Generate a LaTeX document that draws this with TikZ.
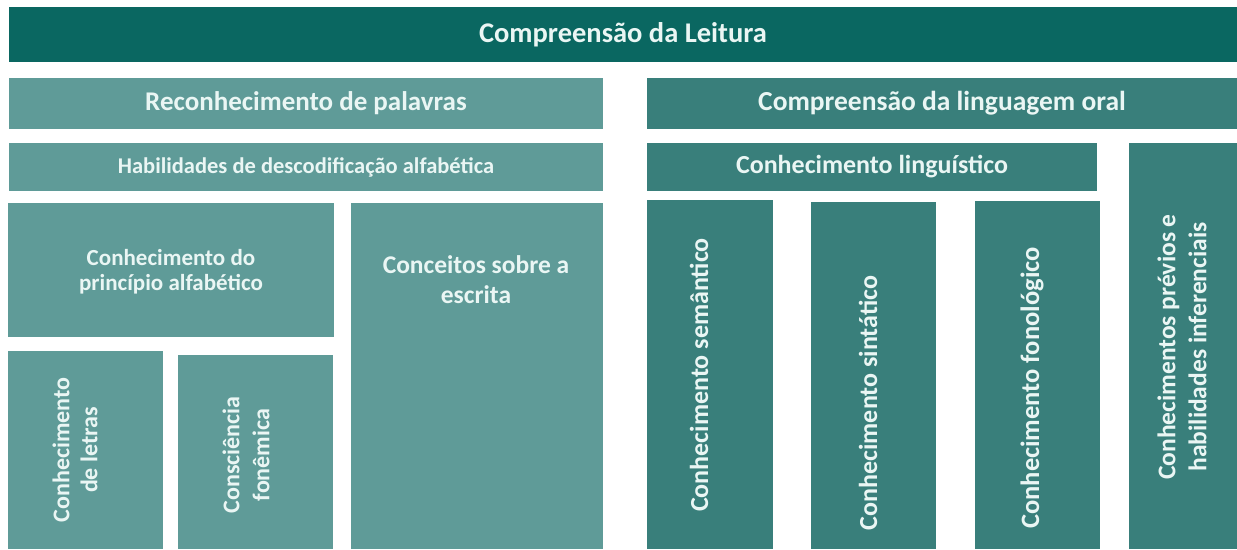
\documentclass[tikz,border=0pt]{standalone}
\usepackage{fontspec}
\setmainfont{Carlito}
\definecolor{topc}{HTML}{0A6761}
\definecolor{leftc}{HTML}{5F9B98}
\definecolor{rightc}{HTML}{397F7B}
\definecolor{txtc}{HTML}{EAF6F4}
\tikzset{
  blk/.style={rectangle, inner sep=0pt, outer sep=0pt, draw=none, text=txtc, font=\bfseries, align=center},
  lbl/.style={inner sep=0pt, text=txtc, font=\bfseries, align=center},
}
% \bx{name}{x1}{y1}{x2}{y2}{color}
\newcommand{\bx}[6]{%
  \node[blk, fill=#6, minimum width={(#4-#2)*1pt}, minimum height={(#5-#3)*1pt}] (#1) at ({(#2+#4)/2},{(#3+#5)/2}) {};}
\begin{document}
\begin{tikzpicture}[x=1pt,y=-1pt]
\useasboundingbox (0,0) rectangle (1237,549);
\fill[white] (0,0) rectangle (1237,549);
% boxes
\bx{top}{9}{7}{1237}{62}{topc}
\bx{reco}{9}{78}{603}{129}{leftc}
\bx{habil}{9}{143}{603}{191}{leftc}
\bx{princ}{8}{203}{334}{337}{leftc}
\bx{conc}{351}{203}{603}{549}{leftc}
\bx{letras}{8}{351}{163}{549}{leftc}
\bx{consc}{178}{355}{333}{549}{leftc}
\bx{oral}{647}{78}{1237}{129}{rightc}
\bx{ling}{647}{143}{1097}{191}{rightc}
\bx{prev}{1129}{143}{1237}{549}{rightc}
\bx{sem}{647}{200}{773}{549}{rightc}
\bx{sint}{811}{202}{936}{549}{rightc}
\bx{fono}{975}{201}{1100}{549}{rightc}
% texts
\node[lbl, font=\bfseries\fontsize{28.5}{32}\selectfont] (ttop) at (top.center) {Compreensão da Leitura};
\node[lbl, font=\bfseries\fontsize{27}{30}\selectfont] (treco) at (reco.center) {Reconhecimento de palavras};
\node[lbl, font=\bfseries\fontsize{22.5}{24}\selectfont] (thabil) at (habil.center) {Habilidades de descodificação alfabética};
\node[lbl, font=\bfseries\fontsize{23}{25}\selectfont] (tprinc) at (171,272) {Conhecimento do\\princípio alfabético};
\node[lbl, font=\bfseries\fontsize{25.5}{30}\selectfont] (tconc) at (476,280) {Conceitos sobre a\\escrita};
\node[lbl, rotate=90, font=\bfseries\fontsize{24}{28}\selectfont] (tletras) at (75,450) {Conhecimento\\de letras};
\node[lbl, rotate=90, font=\bfseries\fontsize{24}{30}\selectfont] (tconsc) at (246,455) {Consciência\\fonêmica};
\node[lbl, font=\bfseries\fontsize{27.5}{30}\selectfont] (toral) at (oral.center) {Compreensão da linguagem oral};
\node[lbl, font=\bfseries\fontsize{26}{28}\selectfont] (tling) at (ling.center) {Conhecimento linguístico};
\node[lbl, rotate=90, font=\bfseries\fontsize{26}{28}\selectfont] (tsem) at (699,375) {Conhecimento semântico};
\node[lbl, rotate=90, font=\bfseries\fontsize{26}{28}\selectfont] (tsint) at (868,403) {Conhecimento sintático};
\node[lbl, rotate=90, font=\bfseries\fontsize{26.5}{28}\selectfont] (tfono) at (1032,388) {Conhecimento fonológico};
\node[lbl, rotate=90, font=\bfseries\fontsize{25.5}{31}\selectfont] (tprev) at (1182,347) {Conhecimentos prévios e\\habilidades inferenciais};
\end{tikzpicture}
\end{document}
